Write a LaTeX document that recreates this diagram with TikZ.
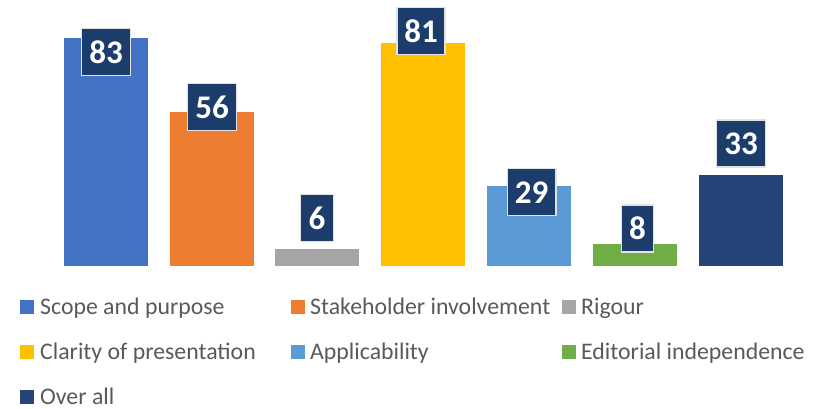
\documentclass[tikz,border=0pt]{standalone}
\usepackage{fontspec}
\setmainfont{Carlito}
\definecolor{cScope}{HTML}{4472C4}
\definecolor{cStake}{HTML}{ED7D31}
\definecolor{cRig}{HTML}{A5A5A5}
\definecolor{cClar}{HTML}{FFC000}
\definecolor{cAppl}{HTML}{5B9BD5}
\definecolor{cEdit}{HTML}{70AD47}
\definecolor{cOver}{HTML}{264478}
\definecolor{cLab}{HTML}{1C3D6B}
\definecolor{cLabBorder}{HTML}{E2E2E2}
\definecolor{cText}{HTML}{595959}
\tikzset{
  bar/.style={draw=none, inner sep=0pt, outer sep=0pt},
  vlabel/.style={fill=cLab, draw=cLabBorder, line width=1.5pt, text=white,
    font=\fontsize{33}{33}\selectfont\bfseries, minimum height=47pt, inner sep=0pt, outer sep=0pt},
  lsq/.style={inner sep=0pt, outer sep=0pt, minimum size=14pt},
  ltext/.style={anchor=base west, inner sep=0pt, text=cText, font=\fontsize{23.8}{23.8}\selectfont},
}
\begin{document}
\begin{tikzpicture}[x=1pt,y=-1pt]
\useasboundingbox (0,0) rectangle (826,408);
% bars
\fill[cScope] (64,38) rectangle (148,265.7) coordinate (b1);
\fill[cStake] (170,112) rectangle (254,265.7) coordinate (b2);
\fill[cRig]   (275,249) rectangle (359,265.7) coordinate (b3);
\fill[cClar]  (381,43) rectangle (465,265.7) coordinate (b4);
\fill[cAppl]  (487,186) rectangle (571,265.7) coordinate (b5);
\fill[cEdit]  (593,244) rectangle (677,265.7) coordinate (b6);
\fill[cOver]  (699,175) rectangle (783,265.7) coordinate (b7);
% value labels
\node[vlabel, minimum width=49pt] (l1) at (106,52) {83};
\node[vlabel, minimum width=49pt] (l2) at (212,107.2) {56};
\node[vlabel, minimum width=32.6pt] (l3) at (317,218) {6};
\node[vlabel, minimum width=48.3pt] (l4) at (421,30.8) {81};
\node[vlabel, minimum width=48.7pt] (l5) at (531.7,192.2) {29};
\node[vlabel, minimum width=32.4pt] (l6) at (637.5,228.5) {8};
\node[vlabel, minimum width=48.6pt] (l7) at (741,143.7) {33};
% legend
\node[lsq, fill=cScope, anchor=south west] (q1) at (20,314) {};
\node[ltext] (t1) at (40,314) {Scope and purpose};
\node[lsq, fill=cStake, anchor=south west] (q2) at (291,314) {};
\node[ltext] (t2) at (310,314) {Stakeholder involvement};
\node[lsq, fill=cRig, anchor=south west] (q3) at (562,314) {};
\node[ltext] (t3) at (581,314) {Rigour};
\node[lsq, fill=cClar, anchor=south west] (q4) at (20,359) {};
\node[ltext] (t4) at (40,359) {Clarity of presentation};
\node[lsq, fill=cAppl, anchor=south west] (q5) at (291,359) {};
\node[ltext] (t5) at (310,359) {Applicability};
\node[lsq, fill=cEdit, anchor=south west] (q6) at (562,359) {};
\node[ltext] (t6) at (581,359) {Editorial independence};
\node[lsq, fill=cOver, anchor=south west] (q7) at (20,404) {};
\node[ltext] (t7) at (40,404) {Over all};
\end{tikzpicture}
\end{document}
